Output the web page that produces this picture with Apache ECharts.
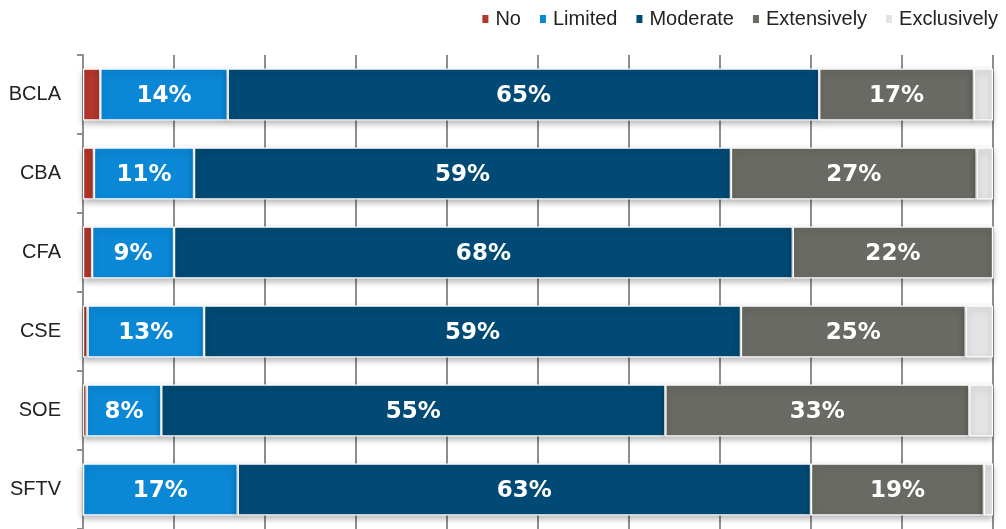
<!DOCTYPE html>
<html>
<head>
<meta charset="utf-8">
<script src="https://cdn.jsdelivr.net/npm/echarts@6/dist/echarts.min.js"></script>
<style>
  html, body { margin: 0; padding: 0; background: #fff; }
  #chart { width: 1006px; height: 529px; }
</style>
</head>
<body>
<div id="chart"></div>
<script>
// Programs, top to bottom
const categories = ['BCLA', 'CBA', 'CFA', 'CSE', 'SOE', 'SFTV'];

// Share of respondents (%) per level of use
const noUse       = [1.9, 1.2, 1.0, 0.5, 0.4, 0];
const limited     = [14, 11, 9, 12.8, 8.2, 17];
const moderate    = [65, 59, 68, 59, 55.4, 63];
const extensively = [17, 27, 22, 24.7, 33.4, 19];
const exclusively = [2.1, 1.8, 0, 3.0, 2.6, 1];

const seriesNames = ['No', 'Limited', 'Moderate', 'Extensively', 'Exclusively'];
const seriesData = [noUse, limited, moderate, extensively, exclusively];
const seriesColors = ['#b3382b', '#0a88d6', '#004a75', '#6a6a64', '#e3e3e3'];
const labelled = [false, true, true, true, false];

const chart = echarts.init(document.getElementById('chart'), null, { renderer: 'canvas' });

const series = seriesNames.map((name, i) => ({
  name: name,
  type: 'bar',
  stack: 'total',
  barWidth: '66%',
  data: seriesData[i],
  itemStyle: {
    color: seriesColors[i],
    borderColor: '#ffffff',
    borderWidth: 1.2,
    shadowColor: 'rgba(0,0,0,0.28)',
    shadowBlur: 6,
    shadowOffsetY: 3
  },
  label: {
    show: labelled[i],
    position: 'inside',
    offset: [0, 2],
    color: '#ffffff',
    fontFamily: 'DejaVu Sans',
    fontWeight: 'bold',
    fontSize: 23,
    formatter: p => Math.round(p.value) + '%'
  },
  emphasis: { disabled: true }
}));

chart.setOption({
  animation: false,
  backgroundColor: '#ffffff',
  legend: {
    data: seriesNames,
    right: 3,
    top: 4,
    itemWidth: 6,
    itemHeight: 8,
    itemGap: 19,
    icon: 'rect',
    itemStyle: {
      borderWidth: 0,
      shadowBlur: 0,
      shadowOffsetY: 0,
      shadowColor: 'transparent'
    },
    textStyle: {
      fontFamily: 'Liberation Sans',
      fontSize: 20,
      color: '#222222',
      padding: [0, 0, 0, 2]
    }
  },
  grid: {
    left: 83,
    top: 55,
    width: 910,
    height: 477,
    containLabel: false
  },
  xAxis: {
    type: 'value',
    min: 0,
    max: 100,
    interval: 10,
    axisLabel: { show: false },
    axisLine: { show: false },
    axisTick: { show: false },
    splitLine: { show: true, lineStyle: { color: '#8e8e8e', width: 2 } }
  },
  yAxis: {
    type: 'category',
    data: categories,
    inverse: true,
    axisLine: { show: true, lineStyle: { color: '#8e8e8e', width: 2 } },
    axisTick: { show: true, length: 6, lineStyle: { color: '#8e8e8e', width: 2 } },
    axisLabel: {
      fontFamily: 'Liberation Sans',
      fontSize: 20,
      color: '#222222',
      margin: 22
    }
  },
  series: series
});
</script>
</body>
</html>
